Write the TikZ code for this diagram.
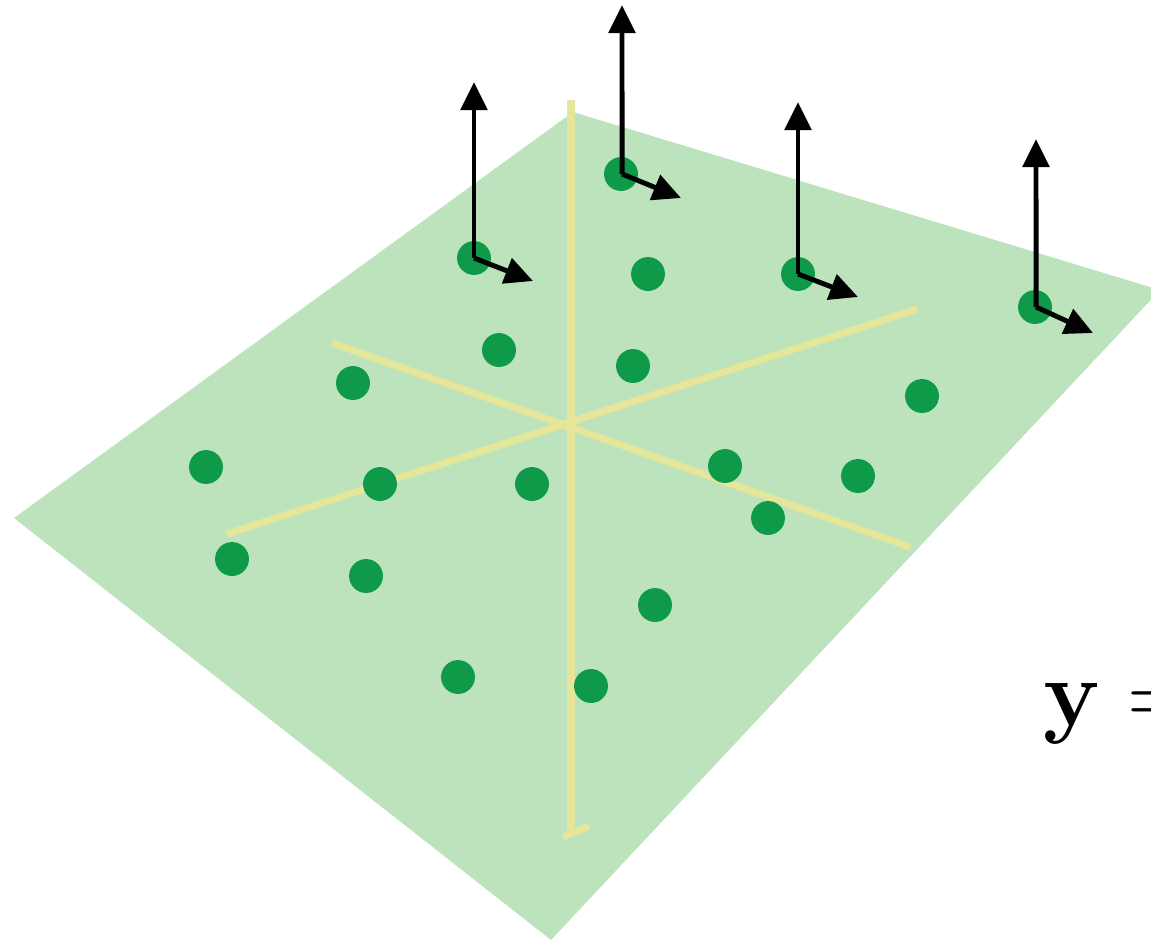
\documentclass[tikz,border=0pt]{standalone}
\usetikzlibrary{arrows.meta}
\definecolor{planegreen}{HTML}{BDE3BD}
\definecolor{dotgreen}{HTML}{0E9A48}
\definecolor{axisyellow}{HTML}{E5E69A}
\tikzset{
  pt/.style={circle, fill=dotgreen, inner sep=0pt, minimum size=19.3pt},
  axisline/.style={draw=axisyellow, line width=4pt},
  vec/.style={line width=2.8pt, -{Triangle[length=16pt, width=15pt]}},
}
\begin{document}
\begin{tikzpicture}[x=0.02cm, y=-0.02cm]
\useasboundingbox (0,0) rectangle (1151,941);
% plane
\fill[planegreen] (14,518) -- (573,112) -- (1160,290) -- (551,940) -- cycle;
% axes on the plane
\draw[axisline] (571,100) -- (571,836);
\draw[axisline] (563,837) -- (589,826);
\draw[axisline] (332,343) -- (910,547);
\draw[axisline] (227,534) -- (917,309);
% sample points
\node[pt] (p1) at (621,174) {};
\node[pt] (p2) at (474,258) {};
\node[pt] (p3) at (648,274) {};
\node[pt] (p4) at (798,274) {};
\node[pt] (p5) at (1035,307) {};
\node[pt] (p6) at (499,350) {};
\node[pt] (p7) at (353,383) {};
\node[pt] (p8) at (633,366) {};
\node[pt] (p9) at (922,396) {};
\node[pt] (p10) at (206,467) {};
\node[pt] (p11) at (380,484) {};
\node[pt] (p12) at (532,484) {};
\node[pt] (p13) at (725,466) {};
\node[pt] (p14) at (858,476) {};
\node[pt] (p15) at (768,518) {};
\node[pt] (p16) at (232,559) {};
\node[pt] (p17) at (366,576) {};
\node[pt] (p18) at (655,605) {};
\node[pt] (p19) at (458,677) {};
\node[pt] (p20) at (591,686) {};
% local frames
\coordinate (u2) at (474,82);   \coordinate (r2) at (533,281);
\coordinate (u1) at (622,5);    \coordinate (r1) at (681,198);
\coordinate (u4) at (798,102);  \coordinate (r4) at (858,297);
\coordinate (u5) at (1036,139); \coordinate (r5) at (1093,333);
\draw[vec] (p2.center) -- (u2);
\draw[vec] (p2.center) -- (r2);
\draw[vec] ([xshift=0.6pt]p1.center) -- (u1);
\draw[vec] ([xshift=0.6pt]p1.center) -- (r1);
\draw[vec] (p4.center) -- (u4);
\draw[vec] (p4.center) -- (r4);
\draw[vec] ([xshift=0.6pt]p5.center) -- (u5);
\draw[vec] ([xshift=0.6pt]p5.center) -- (r5);
% label
\node[anchor=base west, inner sep=0pt] (lbl) at (1043,725) {\scalebox{2.17}{\Huge$\mathbf{y} =$}};
\end{tikzpicture}
\end{document}
